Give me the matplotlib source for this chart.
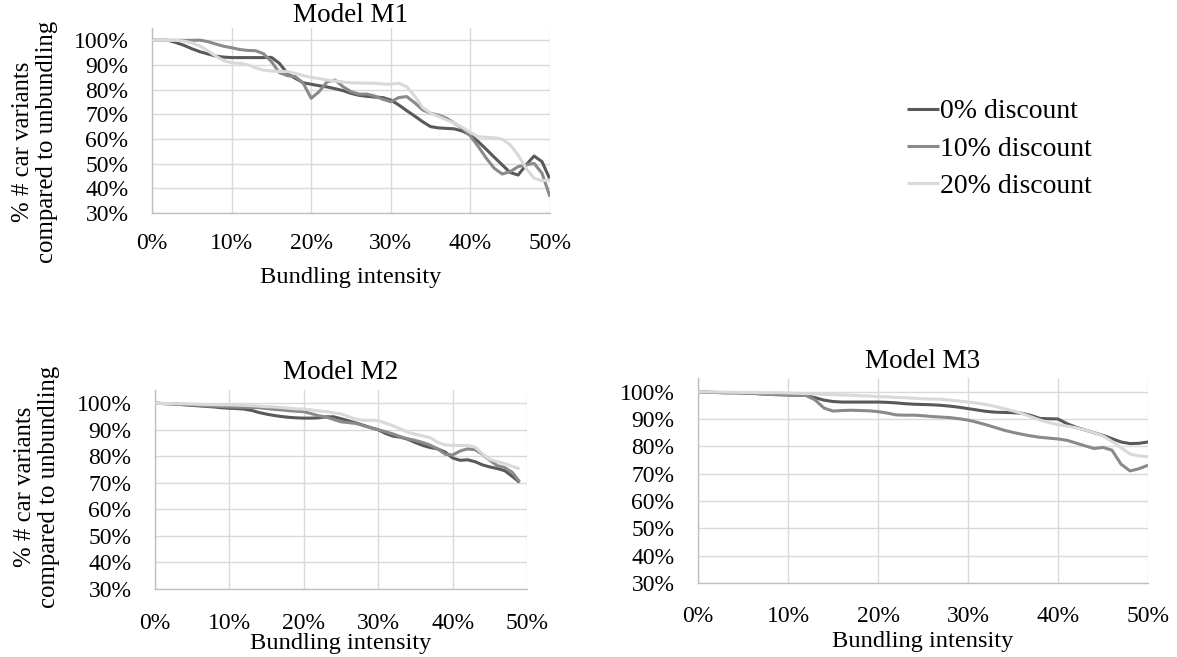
import matplotlib
matplotlib.use("Agg")
import matplotlib.pyplot as plt
from matplotlib.ticker import PercentFormatter

plt.rcParams['font.family'] = ['Liberation Serif', 'DejaVu Serif']

series_labels = ["0% discount", "10% discount", "20% discount"]
series_colors = ["#595959", "#8a8a8a", "#d9d9d9"]

x_m1 = list(range(0, 51))
m1_d0 = [100, 100, 100, 99.1, 98.0, 96.6, 95.4, 94.5, 93.6, 93.2,
         93.0, 93.0, 93.0, 93.0, 93.0, 93.1, 90.7, 86.6, 84.6, 82.8,
         82.2, 81.6, 81.1, 80.4, 79.6, 78.5, 77.7, 77.3, 77.0, 76.8,
         75.8, 73.8, 71.5, 69.3, 67.0, 65.0, 64.5, 64.3, 64.1, 63.2,
         61.6, 58.9, 55.8, 52.6, 49.5, 46.4, 45.4, 49.5, 53.1, 50.8, 43.6]
m1_d10 = [100, 100, 100, 100, 100, 100, 100.1, 99.5, 98.5, 97.6,
          97.0, 96.3, 95.9, 95.8, 94.6, 91.4, 86.9, 85.7, 85.3, 82.6,
          76.5, 79.2, 83.2, 83.9, 81.2, 79.2, 78.2, 78.2, 77.4, 76.1,
          75.1, 76.8, 77.2, 74.7, 71.8, 70.4, 69.7, 68.4, 66.4, 64.3,
          61.2, 56.9, 52.2, 48.1, 45.8, 46.8, 48.8, 49.5, 50.1, 46.1, 36.6]
m1_d20 = [100, 100, 100, 100, 99.7, 99.0, 97.7, 95.8, 93.6, 91.8,
          90.9, 90.7, 90.1, 88.9, 87.9, 87.6, 87.4, 87.3, 86.6, 85.7,
          85.0, 84.5, 83.9, 83.5, 83.1, 82.8, 82.7, 82.6, 82.6, 82.3,
          82.2, 82.6, 81.2, 77.4, 72.8, 70.4, 69.1, 67.7, 66.4, 64.7,
          62.6, 60.9, 60.7, 60.5, 59.9, 57.6, 53.5, 48.1, 44.1, 43.1, 43.4]

x_m2 = list(range(0, 50))
m2_d0 = [100, 99.9, 99.8, 99.6, 99.4, 99.2, 99.0, 98.8, 98.6, 98.3,
         98.1, 98.0, 97.8, 97.3, 96.5, 95.9, 95.4, 95.0, 94.7, 94.5,
         94.4, 94.4, 94.5, 94.9, 94.9, 94.2, 93.4, 92.6, 91.7, 90.8,
         90.0, 88.6, 87.6, 87.2, 86.4, 85.2, 84.1, 83.3, 82.8, 81.6,
         79.4, 78.5, 78.7, 78.0, 76.8, 76.0, 75.4, 74.6, 72.5, 70.2]
m2_d10 = [100, 99.9, 99.8, 99.7, 99.6, 99.4, 99.2, 99.0, 98.9, 98.8,
          98.6, 98.5, 98.5, 98.4, 98.3, 98.0, 97.7, 97.5, 97.2, 97.0,
          96.8, 96.1, 95.3, 94.8, 93.9, 93.0, 92.7, 92.4, 91.6, 90.8,
          90.0, 89.3, 88.4, 87.4, 86.6, 86.0, 85.2, 84.2, 82.8, 80.8,
          80.5, 82.0, 82.8, 82.5, 80.8, 78.5, 76.5, 75.8, 74.0, 70.5]
m2_d20 = [100, 99.9, 99.9, 99.8, 99.8, 99.7, 99.6, 99.5, 99.5, 99.4,
          99.4, 99.3, 99.2, 99.1, 98.9, 98.7, 98.6, 98.4, 98.1, 97.9,
          97.8, 97.5, 97.1, 96.9, 96.4, 96.0, 95.0, 94.0, 93.6, 93.6,
          93.5, 92.5, 91.5, 90.3, 89.1, 88.3, 87.7, 87.0, 85.3, 84.3,
          84.1, 84.1, 84.1, 83.5, 81.0, 78.8, 78.0, 77.3, 76.2, 75.3]

x_m3 = list(range(0, 51))
m3_d0 = [100, 99.8, 99.7, 99.6, 99.6, 99.5, 99.4, 99.2, 99.0, 98.9,
         98.8, 98.7, 98.6, 97.8, 96.9, 96.4, 96.2, 96.2, 96.2, 96.2,
         96.2, 96.1, 95.9, 95.6, 95.4, 95.3, 95.2, 95.0, 94.7, 94.3,
         93.8, 93.3, 92.8, 92.5, 92.4, 92.3, 92.1, 91.3, 90.2, 90.1,
         90.0, 88.3, 87.0, 86.0, 85.0, 84.0, 82.8, 81.6, 81.0, 81.1, 81.6]
m3_d10 = [100, 99.8, 99.7, 99.6, 99.6, 99.5, 99.4, 99.2, 99.0, 98.9,
          98.8, 98.7, 98.6, 97.0, 94.0, 92.9, 93.1, 93.2, 93.1, 93.0,
          92.7, 92.2, 91.5, 91.4, 91.4, 91.2, 90.9, 90.7, 90.5, 90.1,
          89.6, 88.8, 87.9, 86.9, 85.9, 85.1, 84.4, 83.8, 83.3, 83.0,
          82.7, 82.2, 81.2, 80.2, 79.2, 79.6, 78.6, 73.5, 71.0, 71.8, 73.1]
m3_d20 = [100, 99.9, 99.9, 99.8, 99.8, 99.7, 99.7, 99.6, 99.6, 99.6,
          99.5, 99.4, 99.3, 99.2, 99.0, 98.9, 98.8, 98.7, 98.5, 98.4,
          98.2, 98.1, 97.9, 97.8, 97.6, 97.4, 97.3, 97.2, 96.9, 96.6,
          96.2, 95.8, 95.3, 94.6, 93.8, 93.0, 92.0, 90.8, 89.6, 88.7,
          87.9, 87.4, 86.8, 86.0, 85.0, 83.8, 81.8, 79.5, 77.2, 76.5, 76.2]

titles = ["Model M1", "Model M2", "Model M3"]
x_ticks = [0, 10, 20, 30, 40, 50]
y_ticks = [30, 40, 50, 60, 70, 80, 90, 100]
xlabel_text = "Bundling intensity"
ylabel_text = "% # car variants\ncompared to unbundling"

W, H = 1177, 657
fig = plt.figure(figsize=(W / 100, H / 100), dpi=100)


def px_rect(left, top, right, bottom):
    return [left / W, 1 - bottom / H, (right - left) / W, (bottom - top) / H]


panels = [
    dict(rect=px_rect(152, 28, 550, 213), x=x_m1, ys=[m1_d0, m1_d10, m1_d20],
         title=titles[0], tpad=2, tickpad=14.5, xlab_pad=9),
    dict(rect=px_rect(155, 390, 527, 589), x=x_m2, ys=[m2_d0, m2_d10, m2_d20],
         title=titles[1], tpad=8, tickpad=17, xlab_pad=-0.5),
    dict(rect=px_rect(698, 378, 1148, 583), x=x_m3, ys=[m3_d0, m3_d10, m3_d20],
         title=titles[2], tpad=7, tickpad=16.5, xlab_pad=3),
]

axes = []
for p in panels:
    ax = fig.add_axes(p["rect"])
    for yv, col, lab in zip(p["ys"], series_colors, series_labels):
        ax.plot(p["x"], yv, color=col, lw=2.2, label=lab,
                solid_joinstyle="round", solid_capstyle="butt", zorder=3)
    ax.set_xlim(0, 50)
    ax.set_ylim(30, 105)
    ax.set_xticks(x_ticks)
    ax.set_yticks(y_ticks)
    ax.xaxis.set_major_formatter(PercentFormatter(decimals=0))
    ax.yaxis.set_major_formatter(PercentFormatter(decimals=0))
    ax.grid(True, color="#d9d9d9", lw=1.0, zorder=0)
    ax.set_axisbelow(True)
    for s in ["top", "right"]:
        ax.spines[s].set_visible(False)
    for s in ["left", "bottom"]:
        ax.spines[s].set_color("#bfbfbf")
        ax.spines[s].set_linewidth(1.0)
    ax.tick_params(axis="both", length=0, labelsize=17)
    ax.tick_params(axis="x", pad=p["tickpad"])
    ax.tick_params(axis="y", pad=17)
    ax.set_title(p["title"], fontsize=19.5, pad=p["tpad"])
    ax.set_xlabel(xlabel_text, fontsize=17.6, labelpad=p["xlab_pad"])
    axes.append(ax)

fig.text(35 / W, 1 - 142 / H, ylabel_text, rotation=90, ha="center",
         va="center", fontsize=17.8, multialignment="center", linespacing=1.1)
fig.text(37 / W, 1 - 487 / H, ylabel_text, rotation=90, ha="center",
         va="center", fontsize=17.8, multialignment="center", linespacing=1.1)

handles, labels = axes[0].get_legend_handles_labels()
fig.legend(handles, labels, loc="center left",
           bbox_to_anchor=(907 / W, 1 - 149 / H), frameon=False,
           fontsize=20, handlelength=1.15, handletextpad=0.05,
           labelspacing=0.43, borderpad=0, borderaxespad=0)

fig.savefig("out.png", dpi=100)
